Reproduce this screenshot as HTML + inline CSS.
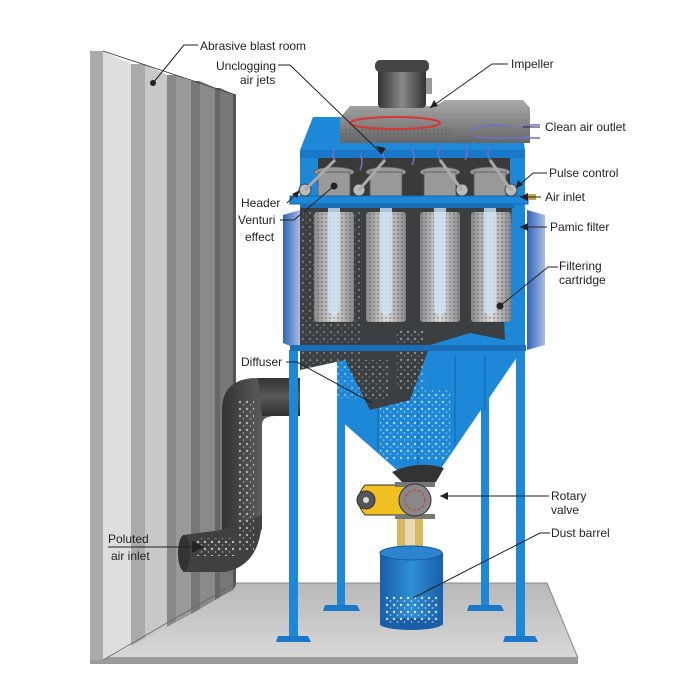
<!DOCTYPE html>
<html><head><meta charset="utf-8"><style>
html,body{margin:0;padding:0;background:#fff;}
svg{display:block;font-family:"Liberation Sans",Arial,sans-serif;}
text{font-size:12px;fill:#222;}
</style></head><body>
<svg width="700" height="700" viewBox="0 0 700 700" xmlns="http://www.w3.org/2000/svg">
<defs>
<linearGradient id="floor" x1="0" y1="0" x2="0" y2="1"><stop offset="0" stop-color="#b8b8b8"/><stop offset="1" stop-color="#d8d8d8"/></linearGradient>
<linearGradient id="duct" x1="0" y1="0" x2="1" y2="0"><stop offset="0" stop-color="#333"/><stop offset="0.5" stop-color="#5a5a5a"/><stop offset="1" stop-color="#2e2e2e"/></linearGradient>
<linearGradient id="ductH" x1="0" y1="0" x2="0" y2="1"><stop offset="0" stop-color="#333"/><stop offset="0.5" stop-color="#5a5a5a"/><stop offset="1" stop-color="#2e2e2e"/></linearGradient>
<linearGradient id="cart" x1="0" y1="0" x2="1" y2="0"><stop offset="0" stop-color="#888"/><stop offset="0.5" stop-color="#ddd"/><stop offset="1" stop-color="#888"/></linearGradient>
<linearGradient id="door" x1="0" y1="0" x2="1" y2="0"><stop offset="0" stop-color="#2f63b8"/><stop offset="1" stop-color="#a9bde0"/></linearGradient>
<linearGradient id="barrel" x1="0" y1="0" x2="1" y2="0"><stop offset="0" stop-color="#1a5ea8"/><stop offset="0.5" stop-color="#2d8fd6"/><stop offset="1" stop-color="#1a5ea8"/></linearGradient>
<linearGradient id="fan" x1="0" y1="0" x2="0" y2="1"><stop offset="0" stop-color="#aaa"/><stop offset="1" stop-color="#666"/></linearGradient>
<linearGradient id="motor" x1="0" y1="0" x2="1" y2="0"><stop offset="0" stop-color="#333"/><stop offset="0.5" stop-color="#888"/><stop offset="1" stop-color="#333"/></linearGradient>
<pattern id="dots" width="7" height="7" patternUnits="userSpaceOnUse"><circle cx="2" cy="3" r="1.2" fill="#fff" opacity="0.8"/><circle cx="5.5" cy="6" r="0.9" fill="#fff" opacity="0.6"/></pattern>
<pattern id="mesh" width="4" height="4" patternUnits="userSpaceOnUse"><circle cx="2" cy="2" r="1" fill="#555" opacity="0.5"/></pattern>
</defs>

<polygon points="236,583 547,583 578,658 90,658" fill="url(#floor)"/>
<rect x="90" y="657" width="488" height="7" fill="#9a9a9a"/>
<polyline points="236,583 547,583 578,658" fill="none" stroke="#888" stroke-width="1"/>

<g>
<polygon points="90,51 103,51 103,660 90,660" fill="#aaa"/>
<polygon points="103,51 131,64 131,646 103,660" fill="#dedede"/>
<polygon points="131,64 145,64 145,638 131,646" fill="#aaa"/>
<polygon points="145,64 167,75 167,627 145,638" fill="#c8c8c8"/>
<polygon points="167,75 176,75 176,622 167,627" fill="#888"/>
<polygon points="176,75 191,81 191,614 176,622" fill="#9a9a9a"/>
<polygon points="191,81 200,81 200,609 191,614" fill="#777"/>
<polygon points="200,81 215,88 215,600 200,609" fill="#8a8a8a"/>
<polygon points="215,88 220,88 220,597 215,600" fill="#666"/>
<polygon points="220,88 233,94 233,590 220,597" fill="#777"/>
<polygon points="233,94 236,95 236,585 233,590" fill="#555"/>
<line x1="103" y1="51" x2="236" y2="95" stroke="#333" stroke-width="0.8"/>
<line x1="103" y1="660" x2="236" y2="583" stroke="#666" stroke-width="0.8"/>
</g>

<rect x="337" y="350" width="8" height="255" fill="#1e88d8"/>
<polygon points="325,605 357,605 360,611 323,611" fill="#1a78c8"/>
<rect x="481" y="350" width="8" height="255" fill="#1e88d8"/>
<polygon points="469,605 501,605 504,611 467,611" fill="#1a78c8"/>

<!-- duct -->
<path d="M300,378 L258,378 Q222,378 222,410 L222,530 L262,530 L262,425 Q262,416 275,416 L300,416 Z" fill="url(#duct)"/>
<path d="M258,378 L300,378 L300,416 L262,416 Z" fill="url(#ductH)"/>
<path d="M183,535 L222,530 L262,515 Q262,565 225,572 L183,572 Z" fill="#404040"/>
<ellipse cx="184" cy="553" rx="6" ry="18" fill="#333"/>
<rect x="238" y="400" width="16" height="150" fill="url(#dots)" opacity="0.7"/>
<rect x="196" y="538" width="40" height="18" fill="url(#dots)" opacity="0.8"/>

<!-- hopper -->
<polygon points="340,350 522,350 515,360 440,470 397,470 340,420" fill="#1e88d8"/>
<line x1="378" y1="355" x2="378" y2="450" stroke="#1464a8"/>
<line x1="418" y1="355" x2="418" y2="470" stroke="#1464a8"/>
<line x1="455" y1="355" x2="455" y2="445" stroke="#1464a8"/>
<line x1="485" y1="355" x2="485" y2="410" stroke="#1464a8"/>
<rect x="380" y="390" width="70" height="70" fill="url(#dots)" opacity="0.8"/>
<path d="M392,472 Q418,460 444,468 L436,482 L402,482 Z" fill="#333"/>

<!-- housing -->
<polygon points="300,150 313,117 520,117 525,150 525,350 300,350" fill="#1e88d8"/>
<rect x="300" y="150" width="225" height="8" fill="#1a78c8"/>
<rect x="318" y="158" width="192" height="42" fill="#3a3a3a"/>
<path d="M300,205 L512,205 L510,245 L503,300 L505,340 L470,333 L430,345 L410,400 L370,410 L345,360 L300,370 Z" fill="#3b3f42"/>
<rect x="300" y="210" width="60" height="150" fill="url(#dots)" opacity="0.35"/>
<rect x="395" y="330" width="30" height="60" fill="url(#dots)" opacity="0.5"/>
<rect x="300" y="360" width="90" height="40" fill="url(#dots)" opacity="0.45"/>

<polygon points="283,215 300,210 300,350 283,343" fill="url(#door)"/>
<polygon points="527,210 545,215 545,345 527,350" fill="url(#door)"/>

<g>
<rect x="314" y="212" width="40" height="110" rx="3" fill="url(#cart)"/>
<rect x="314" y="212" width="40" height="110" fill="url(#mesh)"/>
<rect x="366" y="212" width="40" height="110" rx="3" fill="url(#cart)"/>
<rect x="366" y="212" width="40" height="110" fill="url(#mesh)"/>
<rect x="420" y="212" width="40" height="110" rx="3" fill="url(#cart)"/>
<rect x="420" y="212" width="40" height="110" fill="url(#mesh)"/>
<rect x="471" y="212" width="40" height="110" rx="3" fill="url(#cart)"/>
<rect x="471" y="212" width="40" height="110" fill="url(#mesh)"/>
<rect x="328" y="175" width="12" height="140" rx="6" fill="#cde4f4" opacity="0.8"/>
<rect x="380" y="175" width="12" height="140" rx="6" fill="#cde4f4" opacity="0.8"/>
<rect x="434" y="175" width="12" height="140" rx="6" fill="#cde4f4" opacity="0.8"/>
<rect x="484" y="175" width="12" height="140" rx="6" fill="#cde4f4" opacity="0.8"/>
</g>

<g fill="#999" stroke="#555" stroke-width="0.8">
<ellipse cx="334" cy="172" rx="20" ry="5"/><rect x="318" y="172" width="32" height="28"/>
<ellipse cx="386" cy="172" rx="20" ry="5"/><rect x="370" y="172" width="32" height="28"/>
<ellipse cx="440" cy="172" rx="20" ry="5"/><rect x="424" y="172" width="32" height="28"/>
<ellipse cx="490" cy="172" rx="20" ry="5"/><rect x="474" y="172" width="32" height="28"/>
</g>
<rect x="290" y="196" width="238" height="8" fill="#1e88d8" stroke="#1464a8"/>
<rect x="300" y="204" width="215" height="4" fill="#1a6eb8"/>
<g fill="#bbb" stroke="#444">
<circle cx="305" cy="190" r="6"/><circle cx="359" cy="190" r="6"/><circle cx="462" cy="190" r="6"/><circle cx="511" cy="190" r="6"/>
</g>
<g stroke="#aaa" stroke-width="3">
<line x1="305" y1="190" x2="335" y2="160"/><line x1="359" y1="190" x2="385" y2="160"/>
<line x1="462" y1="190" x2="440" y2="160"/><line x1="511" y1="190" x2="490" y2="160"/>
</g>
<rect x="528" y="194" width="8" height="6" fill="#c8a040"/>

<polygon points="340,118 350,106 435,106 445,100 523,100 530,108 530,143 340,143" fill="url(#fan)"/>
<rect x="340" y="128" width="110" height="10" fill="url(#mesh)"/>
<ellipse cx="395" cy="123" rx="45" ry="6" fill="none" stroke="#d33" stroke-width="2"/>
<rect x="378" y="62" width="48" height="46" rx="4" fill="url(#motor)"/>
<rect x="375" y="60" width="54" height="12" rx="5" fill="#444"/>
<rect x="426" y="78" width="6" height="16" fill="#999"/>

<g stroke="#6f6fc8" stroke-width="1.5" fill="none">
<path d="M335,160 q-4,-6 0,-12"/><path d="M360,170 q4,-8 0,-16"/><path d="M385,160 q-4,-6 0,-14"/>
<path d="M412,165 q4,-8 0,-16"/><path d="M440,160 q-4,-6 0,-14"/><path d="M465,160 q4,-8 0,-14"/>
<path d="M490,160 q-4,-6 0,-14"/><path d="M470,130 q20,-8 40,-3"/><path d="M475,137 q25,2 55,0"/>
<path d="M520,128 q10,-4 20,-3"/><path d="M515,138 q12,0 25,0"/>
</g>

<rect x="289" y="350" width="9" height="288" fill="#1e88d8"/>
<polygon points="278,636 308,636 311,642 276,642" fill="#1a78c8"/>
<rect x="516" y="350" width="9" height="288" fill="#1e88d8"/>
<polygon points="505,636 535,636 538,642 503,642" fill="#1a78c8"/>
<rect x="290" y="345" width="236" height="6" fill="#1a6eb8"/>

<path d="M365,485 L413,485 L413,515 L365,515 Q352,500 365,485 Z" fill="#f0c020" stroke="#333"/>
<circle cx="366" cy="500" r="9" fill="#555" stroke="#333"/>
<circle cx="366" cy="500" r="3" fill="#ddd"/>
<rect x="395" y="482" width="40" height="5" fill="#777"/>
<rect x="395" y="514" width="40" height="5" fill="#777"/>
<circle cx="415" cy="500" r="16" fill="#888" stroke="#333"/>
<circle cx="415" cy="500" r="10" fill="none" stroke="#c33" stroke-dasharray="3 2"/>
<rect x="397" y="519" width="26" height="37" fill="#d8b860"/>
<rect x="405" y="519" width="10" height="37" fill="#eee" opacity="0.6"/>

<rect x="380" y="553" width="63" height="72" fill="url(#barrel)"/>
<ellipse cx="411" cy="553" rx="31" ry="7" fill="#2b85cc" stroke="#145a9a"/>
<ellipse cx="411" cy="624" rx="31" ry="6" fill="#1a5ea8"/>
<rect x="386" y="595" width="52" height="28" fill="url(#dots)"/>

<g stroke="#222" stroke-width="1" fill="none">
<polyline points="198,45 184,45 153,83"/>
<polyline points="278,65 290,65 382,154"/>
<polyline points="508,64 492,64 430,108"/>
<line x1="523" y1="127" x2="540" y2="127"/>
<polyline points="547,173 533,173 516,188"/>
<line x1="520" y1="197" x2="541" y2="197"/>
<line x1="520" y1="227" x2="547" y2="227"/>
<polyline points="558,267 548,267 500,306"/>
<polyline points="287,203 300,190"/>
<polyline points="280,220 294,220 334,186"/>
<polyline points="286,362 297,362 372,403"/>
<line x1="440" y1="496" x2="549" y2="496"/>
<polyline points="550,533 540,533 413,598"/>
<line x1="108" y1="547" x2="200" y2="547"/>
</g>
<g fill="#222">
<circle cx="153" cy="83" r="3"/><circle cx="334" cy="186" r="3.5"/><circle cx="500" cy="306" r="3.5"/>
<polygon points="382,154 376,146 386,148"/>
<polygon points="430,108 434,100 438,106"/>
<polygon points="516,188 518,180 523,185"/>
<polygon points="520,197 528,193 528,201"/>
<polygon points="520,227 528,223 528,231"/>
<polygon points="300,190 292,194 297,198"/>
<polygon points="440,496 448,492 448,500"/>
<polygon points="204,547 192,541 192,553"/>
</g>

<text x="200" y="50">Abrasive blast room</text>
<text x="216" y="70">Unclogging</text>
<text x="240" y="84">air jets</text>
<text x="511" y="68">Impeller</text>
<text x="545" y="131">Clean air outlet</text>
<text x="549" y="177">Pulse control</text>
<text x="545" y="201">Air inlet</text>
<text x="550" y="231">Pamic filter</text>
<text x="559" y="270">Filtering</text>
<text x="559" y="284">cartridge</text>
<text x="241" y="207">Header</text>
<text x="238" y="224">Venturi</text>
<text x="245" y="241">effect</text>
<text x="241" y="366">Diffuser</text>
<text x="551" y="500">Rotary</text>
<text x="551" y="514">valve</text>
<text x="551" y="537">Dust barrel</text>
<text x="108" y="543">Poluted</text>
<text x="111" y="560">air inlet</text>
</svg>
</body></html>
